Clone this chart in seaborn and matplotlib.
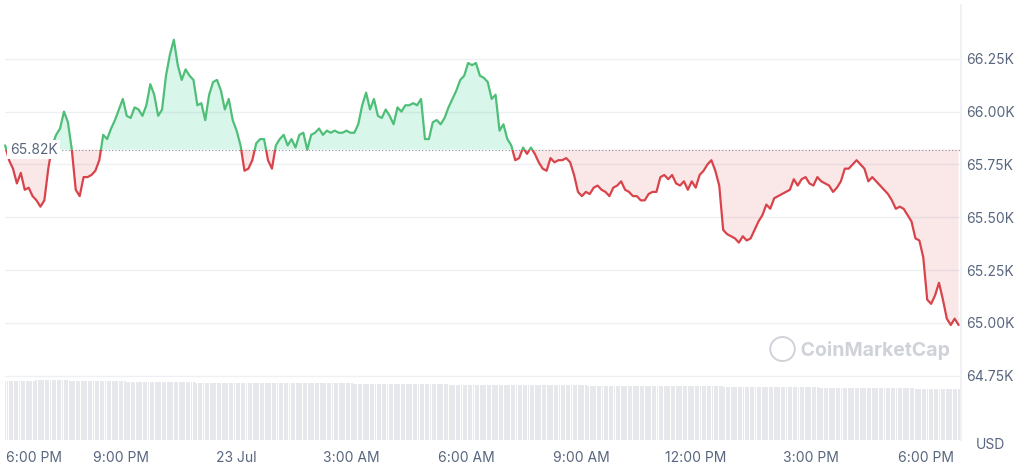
import numpy as np
import pandas as pd
import seaborn as sns
import matplotlib.pyplot as plt
from matplotlib.patches import Rectangle

sns.set_theme(style="white")
plt.rcParams['font.family'] = ['Inter', 'DejaVu Sans']

# price in thousands USD, evenly sampled from 22 Jul ~18:00 to 23 Jul ~18:50
prices = [65.84, 65.77, 65.73, 65.66, 65.71, 65.63, 65.64, 65.60, 65.58, 65.55, 65.58, 65.73,
          65.84, 65.89, 65.92, 66.00, 65.95, 65.82, 65.63, 65.60, 65.69, 65.69, 65.70, 65.72,
          65.77, 65.89, 65.87, 65.92, 65.96, 66.01, 66.06, 65.98, 65.97, 66.02, 66.01, 65.98,
          66.03, 66.13, 66.08, 65.98, 66.01, 66.17, 66.27, 66.34, 66.22, 66.15, 66.20, 66.17,
          66.15, 66.03, 66.04, 65.96, 66.08, 66.14, 66.15, 66.10, 66.01, 66.06, 65.96, 65.91,
          65.84, 65.72, 65.73, 65.77, 65.85, 65.87, 65.87, 65.77, 65.73, 65.84, 65.87, 65.89,
          65.84, 65.87, 65.83, 65.89, 65.90, 65.82, 65.89, 65.90, 65.92, 65.89, 65.91, 65.90,
          65.91, 65.90, 65.90, 65.91, 65.90, 65.90, 65.94, 66.03, 66.09, 66.01, 66.06, 65.98,
          65.97, 66.01, 65.98, 65.94, 66.02, 66.00, 66.03, 66.03, 66.04, 66.03, 66.06, 65.87,
          65.87, 65.95, 65.96, 65.94, 65.97, 66.02, 66.06, 66.10, 66.15, 66.17, 66.23, 66.22,
          66.23, 66.17, 66.16, 66.14, 66.06, 66.08, 65.91, 65.94, 65.87, 65.84, 65.77, 65.78,
          65.83, 65.80, 65.83, 65.80, 65.76, 65.73, 65.72, 65.78, 65.76, 65.77, 65.77, 65.78,
          65.76, 65.70, 65.62, 65.60, 65.62, 65.61, 65.64, 65.65, 65.63, 65.62, 65.60, 65.64,
          65.65, 65.67, 65.63, 65.62, 65.60, 65.60, 65.58, 65.58, 65.61, 65.62, 65.62, 65.69,
          65.70, 65.68, 65.70, 65.66, 65.65, 65.67, 65.63, 65.67, 65.64, 65.70, 65.72, 65.75,
          65.77, 65.72, 65.65, 65.44, 65.42, 65.41, 65.40, 65.38, 65.41, 65.39, 65.40, 65.44,
          65.48, 65.51, 65.56, 65.54, 65.59, 65.60, 65.61, 65.62, 65.63, 65.68, 65.65, 65.68,
          65.69, 65.66, 65.65, 65.69, 65.67, 65.66, 65.65, 65.62, 65.64, 65.67, 65.73, 65.73,
          65.75, 65.77, 65.75, 65.73, 65.67, 65.69, 65.67, 65.65, 65.63, 65.61, 65.58, 65.54,
          65.55, 65.54, 65.51, 65.48, 65.40, 65.39, 65.31, 65.11, 65.09, 65.13, 65.19, 65.11,
          65.02, 64.99, 65.02, 64.99]
start_hour = 17.97   # hours since 22 Jul 00:00
end_hour = 42.85
baseline = 65.82

# relative volume level across the day (bottom strip)
volume = [0.135, 0.137, 0.136, 0.134, 0.133, 0.131, 0.130, 0.131, 0.130, 0.129, 0.128, 0.127,
          0.127, 0.126, 0.125, 0.124, 0.124, 0.123, 0.122, 0.121, 0.120, 0.119, 0.118, 0.116]

tick_hours = [18, 21, 24, 27, 30, 33, 36, 39, 42]
tick_labels = ["6:00 PM", "9:00 PM", "23 Jul", "3:00 AM", "6:00 AM", "9:00 AM",
               "12:00 PM", "3:00 PM", "6:00 PM"]
ytick_vals = [64.75, 65.00, 65.25, 65.50, 65.75, 66.00, 66.25]

df = pd.DataFrame({"hour": np.linspace(start_hour, end_hour, len(prices)), "price": prices})

fig = plt.figure(figsize=(10.24, 4.73), dpi=100)
ax = fig.add_axes([0.005, 0.07, 0.933, 0.92])
ax.set_xlim(start_hour, end_hour + 0.05)
ax.set_ylim(64.446, 66.506)

green = "#16c784"
green_line = "#4fbf78"
red = "#d9434a"

# volume strip
axv = fig.add_axes([0.005, 0.07, 0.933, 0.92], sharex=ax)
axv.set_ylim(0, 1)
axv.axis("off")
vx = np.linspace(start_hour, end_hour, 400)
vy = np.interp(vx, np.linspace(start_hour, end_hour, len(volume)), volume)
axv.bar(vx, vy, width=(end_hour - start_hour) / 400 * 0.8, color="#e6e8ec", linewidth=0, zorder=0)
axv.set_zorder(0)
ax.set_zorder(1)
ax.patch.set_alpha(0)

for v in ytick_vals:
    ax.axhline(v, color="#eef0f3", lw=1, zorder=0)

x = df["hour"].values
y = df["price"].values
ax.fill_between(x, y, baseline, where=y >= baseline, interpolate=True, color=green, alpha=0.16, lw=0)
ax.fill_between(x, y, baseline, where=y < baseline, interpolate=True, color=red, alpha=0.12, lw=0)

sns.lineplot(data=df, x="hour", y="price", ax=ax, color=green_line, lw=1.6)
sns.lineplot(data=df, x="hour", y="price", ax=ax, color=red, lw=1.6)
top_clip = Rectangle((start_hour - 1, baseline), 30, 2, transform=ax.transData)
bot_clip = Rectangle((start_hour - 1, baseline - 3), 30, 3, transform=ax.transData)
ax.lines[-2].set_clip_path(top_clip)
ax.lines[-1].set_clip_path(bot_clip)

ax.axhline(baseline, color="#8a8f98", lw=0.8, ls=(0, (1, 2)), zorder=1)
ax.text(start_hour + 0.12, baseline, "65.82K", fontsize=10, color="#58667e", va="center", ha="left",
        bbox=dict(boxstyle="square,pad=0.2", fc="white", ec="none"), zorder=5)

ax.set_xticks(tick_hours)
ax.set_xticklabels(tick_labels)
ax.get_xticklabels()[0].set_horizontalalignment("left")
ax.yaxis.tick_right()
ax.set_yticks(ytick_vals)
ax.set_yticklabels([f"{v:.2f}K" for v in ytick_vals])
ax.tick_params(axis="both", length=0, labelsize=10, colors="#58667e")
ax.tick_params(axis="y", pad=4)
ax.tick_params(axis="x", pad=8)
ax.set_xlabel("")
ax.set_ylabel("")
for s in ["top", "left", "bottom"]:
    ax.spines[s].set_visible(False)
ax.spines["right"].set_color("#eef0f3")

fig.text(0.953, 0.06, "USD", fontsize=10, color="#58667e", ha="left", va="center")
ax.text(0.8, 0.21, "\u25ef CoinMarketCap", transform=ax.transAxes, fontsize=14,
        color="#c3c7cf", ha="left", va="center", fontweight="bold", alpha=0.8)

fig.savefig("out.png", dpi=100)
